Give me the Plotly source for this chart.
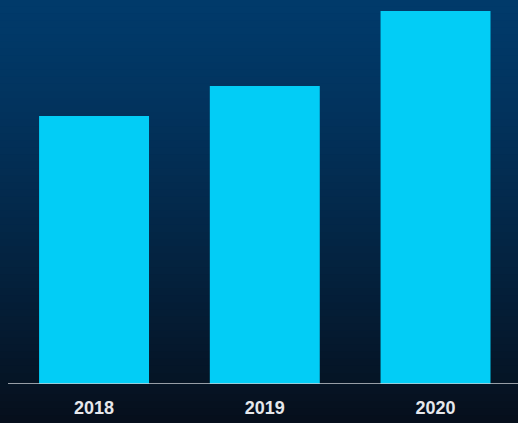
import plotly.graph_objects as go

years = ["2018", "2019", "2020"]
values = [268, 298, 373]

bar_color = "#02cdf6"
top_rgb = (1, 58, 106)
bot_rgb = (6, 15, 28)

fig = go.Figure()
fig.add_trace(go.Bar(x=years, y=values, marker=dict(color=bar_color, line=dict(width=0)),
                     hoverinfo="skip"))

# vertical gradient background via bands
n = 60
y_top = 1.0
y_bot = -39 / 384
shapes = []
for i in range(n):
    t = (i / (n - 1)) ** 1.3
    c = tuple(int(round(top_rgb[k] + (bot_rgb[k] - top_rgb[k]) * t)) for k in range(3))
    y1 = y_top - (y_top - y_bot) * i / n
    y0 = y_top - (y_top - y_bot) * (i + 1) / n
    shapes.append(dict(type="rect", xref="paper", yref="paper", x0=-0.05, x1=1.05,
                       y0=y0 - 0.002, y1=y1 + 0.002, fillcolor="rgb(%d,%d,%d)" % c,
                       line=dict(width=0), layer="below"))
# baseline
shapes.append(dict(type="line", xref="paper", yref="y", x0=0, x1=1, y0=0, y1=0,
                   line=dict(color="#c9ccd2", width=1.6), layer="above"))

fig.update_layout(
    width=518, height=423,
    margin=dict(l=8, r=0, t=0, b=39),
    paper_bgcolor="rgb(6,15,28)",
    plot_bgcolor="rgba(0,0,0,0)",
    showlegend=False,
    bargap=0.356,
    shapes=shapes,
    xaxis=dict(range=[-0.504, 2.483], showgrid=False, zeroline=False, showline=False,
               ticks="", tickfont=dict(family="Liberation Sans", size=18, color="#e6e8ec",
                                       weight="bold"),
               ticklabelstandoff=11),
    yaxis=dict(range=[0, 384], visible=False),
)

fig.write_html("out.html")
